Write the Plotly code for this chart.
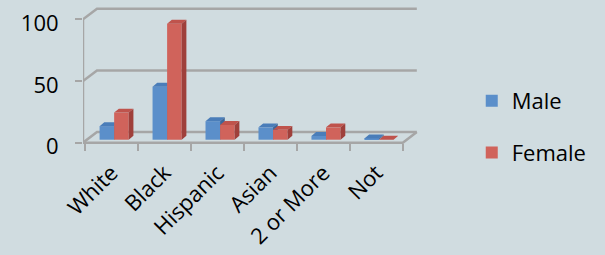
import plotly.graph_objects as go

# ---- data ----
categories = ["White", "Black", "Hispanic", "Asian", "2 or More", "Not"]
male = [11, 43, 15, 10, 3, 1]
female = [22, 94, 12, 8, 10, 0]
y_ticks = [0, 50, 100]
series = [("Male", male), ("Female", female)]

# ---- style / geometry ----
BG = "#D0DCE0"
GRID = "#A6A6A6"
FRONT = {"Male": "#5B8FCA", "Female": "#D0635B"}
TOP = {"Male": "#4A7DB9", "Female": "#BF534C"}
SIDE = {"Male": "#3D6799", "Female": "#9F403B"}
FONT = "Open Sans"

BAR_W = 0.275
OFFS = {"Male": -0.225, "Female": 0.05}
BASE = 2.4            # bars stand at mid depth of the floor
DDX, DDY = 0.089, 3.2  # bar depth (3D look)
WDX, WDY = 0.264, 8.6  # wall depth
XL = -0.038
XR = 6.4
YR = [-10, 110]

W, H = 605, 255
ML, MT = 83, 6.6
PW = (XR - XL) * 53.0
PH = (YR[1] - YR[0]) * 1.24
MR = W - ML - PW
MB = H - MT - PH

n = len(categories)
xs = [i + 0.5 for i in range(n)]

fig = go.Figure()
z = 0
for name, vals in series:
    fig.add_trace(go.Bar(
        x=xs, y=vals, base=BASE, width=BAR_W, offset=OFFS[name], name=name,
        marker=dict(color=FRONT[name], line=dict(width=0)),
        legendgroup=name, zorder=z,
    ))
    tx, ty, sx, sy = [], [], [], []
    for x, v in zip(xs, vals):
        xl = x + OFFS[name]
        xr = xl + BAR_W
        t = BASE + v
        tx += [xl, xr, xr + DDX, xl + DDX, None]
        ty += [t, t, t + DDY, t + DDY, None]
        sx += [xr, xr + DDX, xr + DDX, xr, None]
        sy += [BASE, BASE + DDY, t + DDY, t, None]
    fig.add_trace(go.Scatter(x=tx, y=ty, fill="toself", fillcolor=TOP[name], mode="none",
                             showlegend=False, hoverinfo="skip", zorder=z + 1))
    fig.add_trace(go.Scatter(x=sx, y=sy, fill="toself", fillcolor=SIDE[name], mode="none",
                             showlegend=False, hoverinfo="skip", zorder=z + 1))
    z += 2

shapes = []
line = dict(color=GRID, width=2.5)
# front y axis line
shapes.append(dict(type="line", xref="x", yref="y", x0=XL, x1=XL, y0=y_ticks[0], y1=y_ticks[-1],
                   line=line, layer="below"))
# gridlines on left + back walls
for v in y_ticks:
    shapes.append(dict(type="path", xref="x", yref="y",
                       path=f"M{XL},{v} L{XL + WDX},{v + WDY} L{n + WDX},{v + WDY}",
                       line=line, layer="below"))
# floor front and right edges
shapes.append(dict(type="path", xref="x", yref="y",
                   path=f"M{XL},0 L{n},0 L{n + WDX},{WDY}", line=line, layer="below"))

fig.update_layout(
    width=W, height=H,
    margin=dict(l=ML, r=MR, t=MT, b=MB, pad=0, autoexpand=False),
    paper_bgcolor=BG, plot_bgcolor=BG,
    barmode="overlay",
    shapes=shapes,
    font=dict(family=FONT, size=21, color="#000000"),
    showlegend=True,
    legend=dict(x=(472 - ML) / PW, xanchor="left", y=(MT + PH - 80) / PH, yanchor="top",
                font=dict(size=22), tracegroupgap=20, bgcolor="rgba(0,0,0,0)"),
    xaxis=dict(range=[XL, XR], tickmode="array", tickvals=xs, ticktext=categories,
               tickangle=-45, ticks="", showgrid=False, zeroline=False, showline=False,
               tickfont=dict(size=22), ticklabelstandoff=12, automargin=False,
               anchor="free", position=(0 - YR[0]) / (YR[1] - YR[0]),
               minor=dict(tickmode="array", tickvals=list(range(n + 1)), ticks="outside",
                          ticklen=7, tickwidth=2, tickcolor=GRID, showgrid=False),
               fixedrange=True),
    yaxis=dict(range=YR, tickmode="array", tickvals=y_ticks, ticks="outside", ticklen=7,
               tickwidth=2, tickcolor=GRID, showgrid=False, zeroline=False, showline=False,
               ticklabelstandoff=12, ticklabelshift=4, tickfont=dict(size=22),
               automargin=False, fixedrange=True),
)

fig.write_html("out.html", config={"displayModeBar": False},
               post_script="document.body.style.margin='0';document.body.style.overflow='hidden';")
